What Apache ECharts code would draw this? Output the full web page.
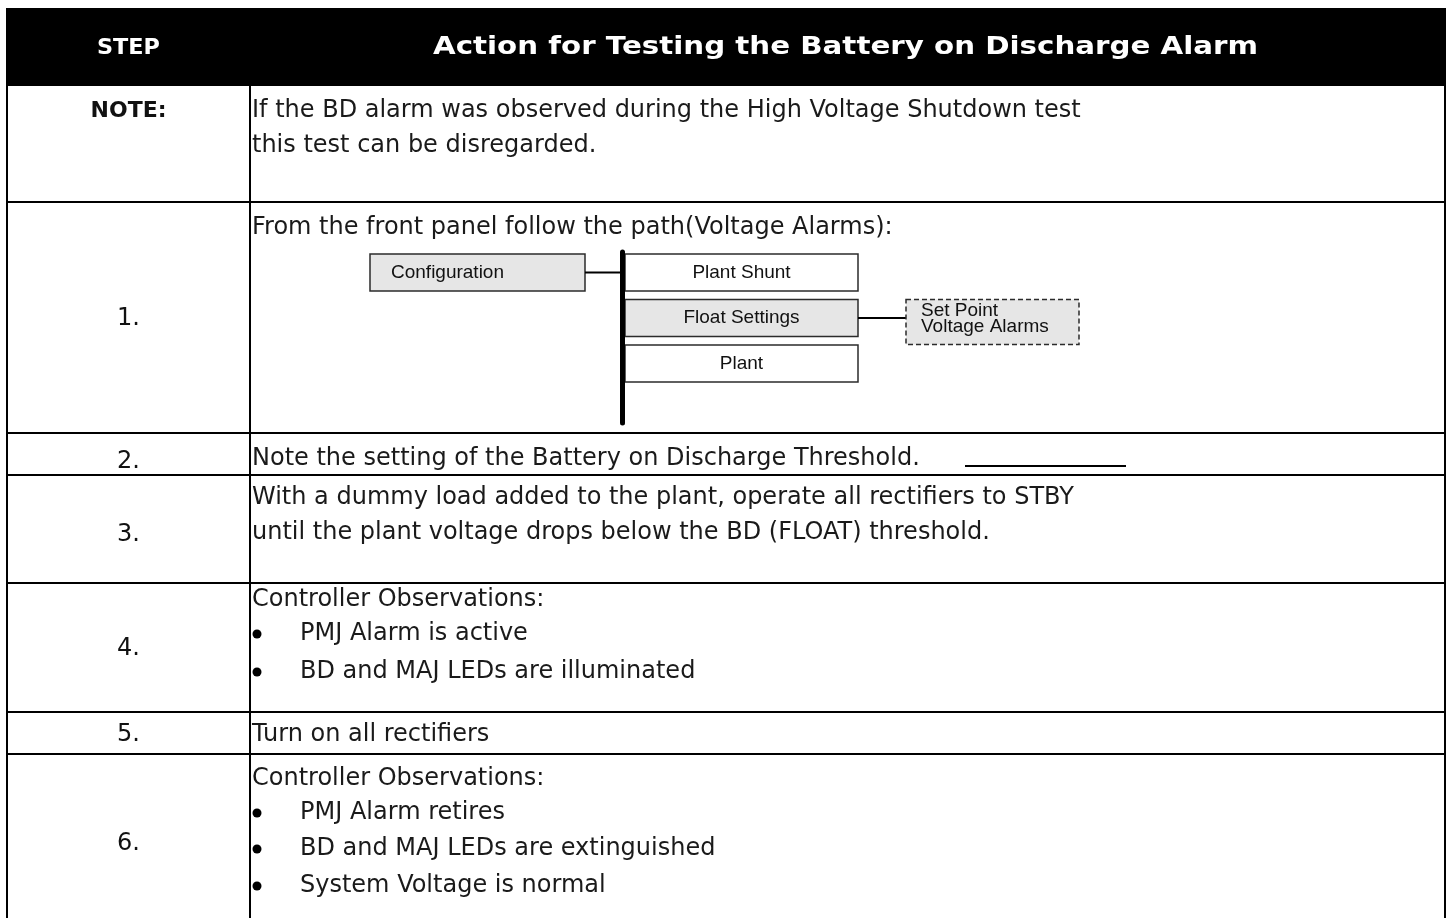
<!DOCTYPE html>
<html><head><meta charset="utf-8">
<script src="https://cdn.jsdelivr.net/npm/echarts@6/dist/echarts.min.js"></script>
<style>html,body{margin:0;padding:0;background:#fff;overflow:hidden}#c{width:1449px;height:918px}</style>
</head><body><div id="c"></div>
<script>
// ---------- data ----------
const headers = ['STEP', 'Action for Testing the Battery on Discharge Alarm'];
const steps = ['NOTE:', '1.', '2.', '3.', '4.', '5.', '6.'];
const actionLines = [
  ['If the BD alarm was observed during the High Voltage Shutdown test', 'this test can be disregarded.'],
  ['From the front panel follow the path(Voltage Alarms):'],
  ['Note the setting of the Battery on Discharge Threshold.'],
  ['With a dummy load added to the plant, operate all rectifiers to STBY', 'until the plant voltage drops below the BD (FLOAT) threshold.'],
  ['Controller Observations:'],
  ['Turn on all rectifiers'],
  ['Controller Observations:']
];
const actionBullets = [
  [], [], [], [],
  ['PMJ Alarm is active', 'BD and MAJ LEDs are illuminated'],
  [],
  ['PMJ Alarm retires', 'BD and MAJ LEDs are extinguished', 'System Voltage is normal']
];
const blankFieldRows = [2];               // rows ending with a fill-in line
const menuRoot = 'Configuration';
const menuChildren = ['Plant Shunt', 'Float Settings', 'Plant'];
const menuSelected = 'Float Settings';
const menuLeaf = ['Set Point', 'Voltage Alarms'];

// ---------- layout ----------
const W = 1449, H = 918;
const LY = {
  left: 7, right: 1445, div: 250, headTop: 8,
  rowEdges: [86, 202, 433, 475, 583, 712, 754, 940],
  lineY: [[111, 146], [228], [459], [498, 533], [600], [735], [779]],
  bulletY: [[], [], [], [], [634, 672], [], [813, 849, 886]],
  stepY: [111, 319, 462, 535, 649, 735, 844],
  textX: 252, bulletX: 257, bulletTextX: 300,
  underlineX: [965, 1126], underlineDy: 7,
  headWidth: [63, 825], headSize: [22, 24]
};
const FONT = '"DejaVu Sans", sans-serif';
const BODY_SIZE = 24, HEAD_SIZE = 22;
const ctx = document.createElement('canvas').getContext('2d');
function textW(t, size, weight) { ctx.font = (weight || 'normal') + ' ' + size + 'px ' + FONT; return ctx.measureText(t).width; }

const chart = echarts.init(document.getElementById('c'));

function tableRow(params, api) {
  const i = params.dataIndex;
  const P = (x, y) => api.coord([x, y]);
  const top = LY.rowEdges[i], bot = LY.rowEdges[i + 1];
  const ch = [];
  const ln = (x1, y1, x2, y2, w) => {
    const a = P(x1, y1), b = P(x2, y2);
    ch.push({type: 'line', shape: {x1: a[0], y1: a[1], x2: b[0], y2: b[1]}, style: {stroke: '#000', lineWidth: w || 2}});
  };
  ln(LY.left, top, LY.left, bot);
  ln(LY.div, top, LY.div, bot);
  ln(LY.right, top, LY.right, bot);
  if (i < steps.length - 1) ln(LY.left, bot, LY.right, bot);
  const sp = P((LY.left + LY.div) / 2, LY.stepY[i]);
  ch.push({type: 'text', x: sp[0], y: sp[1], style: {text: steps[i], fill: '#111', align: 'center', verticalAlign: 'middle',
    fontFamily: FONT, fontSize: i === 0 ? HEAD_SIZE : BODY_SIZE, fontWeight: i === 0 ? 'bold' : 'normal'}});
  actionLines[i].forEach((t, k) => {
    const p = P(LY.textX, LY.lineY[i][k]);
    ch.push({type: 'text', x: p[0], y: p[1], style: {text: t, fill: '#1a1a1a', align: 'left', verticalAlign: 'middle', fontFamily: FONT, fontSize: BODY_SIZE}});
    if (blankFieldRows.indexOf(i) >= 0 && k === actionLines[i].length - 1) {
      const x0 = Math.max(LY.underlineX[0], LY.textX + textW(t + ' ', BODY_SIZE));
      ln(x0, LY.lineY[i][k] + LY.underlineDy, LY.underlineX[1], LY.lineY[i][k] + LY.underlineDy, 2);
    }
  });
  actionBullets[i].forEach((t, k) => {
    const y = LY.bulletY[i][k];
    const c = P(LY.bulletX, y);
    ch.push({type: 'circle', shape: {cx: c[0], cy: c[1], r: 4.5}, style: {fill: '#000'}});
    const p = P(LY.bulletTextX, y);
    ch.push({type: 'text', x: p[0], y: p[1], style: {text: t, fill: '#1a1a1a', align: 'left', verticalAlign: 'middle', fontFamily: FONT, fontSize: BODY_SIZE}});
  });
  return {type: 'group', children: ch};
}

function headerRow(params, api) {
  const P = (x, y) => api.coord([x, y]);
  const a = P(LY.left - 1, LY.headTop), b = P(LY.right + 1, LY.rowEdges[0]);
  const ch = [{type: 'rect', shape: {x: a[0], y: a[1], width: b[0] - a[0], height: b[1] - a[1]}, style: {fill: '#000'}}];
  const cy = (LY.headTop + LY.rowEdges[0]) / 2 + 1;
  const p1 = P((LY.left + LY.div) / 2, cy), p2 = P((LY.div + LY.right) / 2 - 2, cy);
  [p1, p2].forEach((p, k) => {
    const w = textW(headers[k], LY.headSize[k], 'bold');
    const sx = Math.max(1, LY.headWidth[k] / w);
    ch.push({type: 'text', x: p[0], y: p[1], scaleX: sx, style: {text: headers[k], fill: '#fff', align: 'center', verticalAlign: 'middle', fontFamily: FONT, fontSize: LY.headSize[k], fontWeight: 'bold'}});
  });
  return {type: 'group', children: ch};
}

const DG = {rootX: 370, rootW: 215, boxY: 254, boxH: 37, gap: 8.5, barX: 622.5, barTop: 252, barBot: 423,
  childX: 625, childW: 233, leafX: 906, leafW: 173, leafH: 45, leafTextX: 921, leafLineGap: 16, leafDy: -3};
const DFONT = '"Liberation Sans", Arial, sans-serif';
function diagram(params, api) {
  const P = (x, y) => api.coord([x, y]);
  const ch = [];
  const box = (x, y, w, h, fill, dashed) => {
    const a = P(x, y), b = P(x + w, y + h);
    ch.push({type: 'rect', shape: {x: a[0], y: a[1], width: b[0] - a[0], height: b[1] - a[1]},
      style: {fill: fill, stroke: '#2b2b2b', lineWidth: 1.5, lineDash: dashed ? [5, 3] : null}});
  };
  const ln = (x1, y1, x2, y2, w, cap) => {
    const a = P(x1, y1), b = P(x2, y2);
    ch.push({type: 'line', shape: {x1: a[0], y1: a[1], x2: b[0], y2: b[1]}, style: {stroke: '#000', lineWidth: w, lineCap: cap || 'butt'}});
  };
  const txt = (t, x, y, align) => {
    const p = P(x, y);
    ch.push({type: 'text', x: p[0], y: p[1], style: {text: t, fill: '#111', align: align, verticalAlign: 'middle', fontFamily: DFONT, fontSize: 19}});
  };
  box(DG.rootX, DG.boxY, DG.rootW, DG.boxH, '#e6e6e6');
  txt(menuRoot, DG.rootX + DG.rootW / 2 - 30, DG.boxY + DG.boxH / 2, 'center');
  ln(DG.rootX + DG.rootW, DG.boxY + DG.boxH / 2, DG.barX, DG.boxY + DG.boxH / 2, 2);
  let selY = 0;
  menuChildren.forEach((c, k) => {
    const y = DG.boxY + k * (DG.boxH + DG.gap);
    const sel = c === menuSelected;
    box(DG.childX, y, DG.childW, DG.boxH, sel ? '#e6e6e6' : '#fff');
    txt(c, DG.childX + DG.childW / 2, y + DG.boxH / 2, 'center');
    if (sel) selY = y;
  });
  ln(DG.barX, DG.barTop, DG.barX, DG.barBot, 5, 'round');
  ln(DG.childX + DG.childW, selY + DG.boxH / 2, DG.leafX, selY + DG.boxH / 2, 2);
  box(DG.leafX, selY, DG.leafW, DG.leafH, '#e6e6e6', true);
  const ly0 = selY + DG.leafH / 2 + DG.leafDy - DG.leafLineGap * (menuLeaf.length - 1) / 2;
  menuLeaf.forEach((t, k) => txt(t, DG.leafTextX, ly0 + k * DG.leafLineGap, 'left'));
  return {type: 'group', children: ch};
}

chart.setOption({
  animation: false,
  grid: {left: 0, right: 0, top: 0, bottom: 0},
  xAxis: {type: 'value', min: 0, max: W, show: false},
  yAxis: {type: 'value', min: 0, max: H, inverse: true, show: false},
  series: [
    {type: 'custom', clip: false, renderItem: headerRow, data: [[0]], silent: true},
    {type: 'custom', clip: false, renderItem: tableRow, data: steps.map((s, i) => [i]), silent: true},
    {type: 'custom', clip: false, renderItem: diagram, data: [[0]], silent: true}
  ]
});
</script>
</body></html>
